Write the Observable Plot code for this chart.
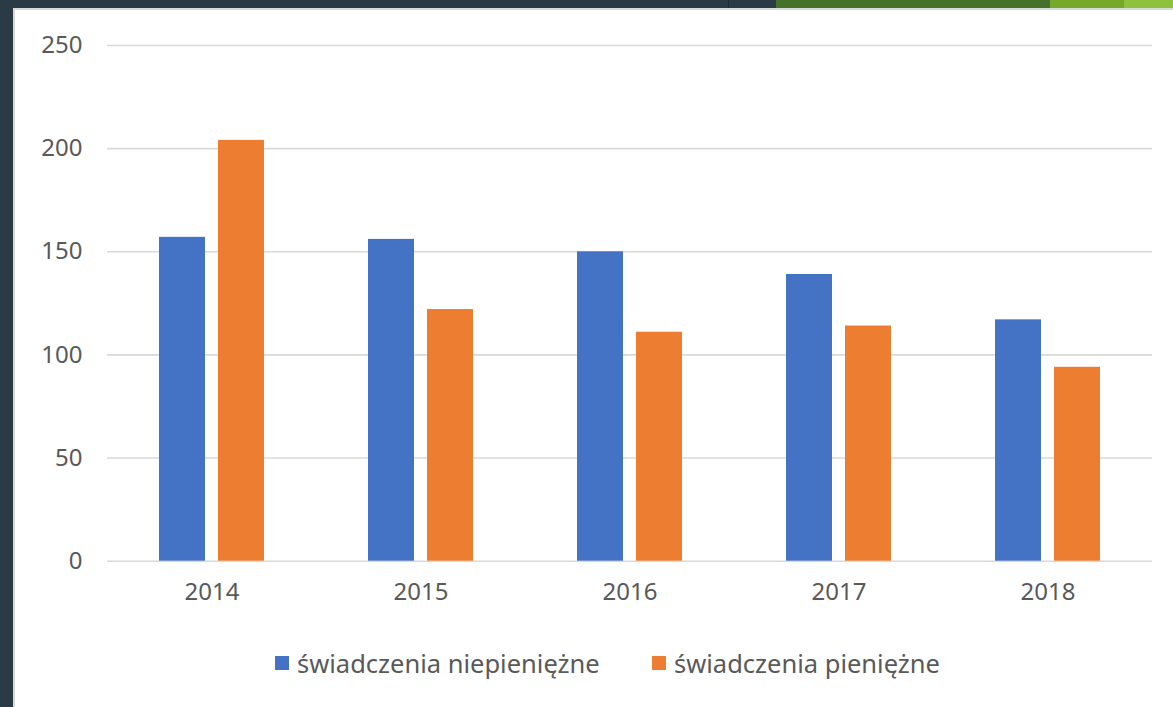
<!DOCTYPE html>
<html>
<head>
<meta charset="utf-8">
<script src="https://cdn.jsdelivr.net/npm/d3@7"></script>
<script src="https://cdn.jsdelivr.net/npm/@observablehq/plot@0.6"></script>
<style>
  html, body { margin: 0; padding: 0; }
  body { width: 1173px; height: 707px; background: #2a3b45; position: relative; overflow: hidden; font-family: "Noto Sans", sans-serif; }
  #deco1 { position: absolute; left: 776px; top: 0; width: 274px; height: 8px; background: #44722a; }
  #deco0 { position: absolute; left: 776px; top: 0; width: 22px; height: 8px; background: #4d5e44; }
  #deco2 { position: absolute; left: 1050px; top: 0; width: 74px; height: 8px; background: #76a82a; }
  #deco3 { position: absolute; left: 1124px; top: 0; width: 49px; height: 8px; background: #8fc23c; }
  #decoLine { position: absolute; left: 728px; top: 0; width: 1px; height: 8px; background: #1c2a31; }
  #panel { position: absolute; left: 13px; top: 8px; width: 1160px; height: 699px; background: #fff; border-left: 2px solid #d9d9d9; border-top: 2px solid #d9d9d9; box-sizing: border-box; }
  #chart { position: absolute; left: 0; top: 0; }
  #legend { position: absolute; left: 0; top: 647px; width: 1173px; height: 32px; }
  .item { position: absolute; top: 0; display: flex; align-items: center; height: 32px; font-size: 25.5px; color: #595959; white-space: nowrap; }
  .sw { width: 14px; height: 14px; margin-right: 8px; }
</style>
</head>
<body>
<div id="decoLine"></div><div id="deco0"></div><div id="deco1"></div><div id="deco2"></div><div id="deco3"></div>
<div id="panel"></div>
<div id="chart"></div>
<div id="legend"></div>
<script>
const years = ["2014", "2015", "2016", "2017", "2018"];
const seriesNames = ["świadczenia niepieniężne", "świadczenia pieniężne"];
const nonCash = [157, 156, 150, 139, 117];
const cash = [204, 122, 111, 114, 94];
const colors = ["#4472C4", "#ED7D31"];
const yTicks = [0, 50, 100, 150, 200, 250];

const rows = [];
years.forEach((yr, i) => {
  rows.push({year: yr, series: seriesNames[0], value: nonCash[i]});
  rows.push({year: yr, series: seriesNames[1], value: cash[i]});
});

const W = 1173, H = 620;
const chart = Plot.plot({
  width: W,
  height: H,
  marginLeft: 106,
  marginRight: 20,
  marginTop: 45,
  marginBottom: H - 560.7,
  style: {background: "transparent", fontFamily: "Noto Sans, sans-serif", fontSize: "24px", color: "#595959", overflow: "visible"},
  fx: {domain: years, padding: 0, label: null, tickSize: 0, tickPadding: 22},
  x: {domain: seriesNames, paddingInner: 0.218, paddingOuter: 0.864, axis: null},
  y: {domain: [0, 250], ticks: yTicks, label: null, tickSize: 0, tickPadding: 25},
  color: {domain: seriesNames, range: colors},
  marks: [
    Plot.ruleY(yTicks, {stroke: "#d9d9d9", strokeWidth: 1.6}),
    Plot.barY(rows, {fx: "year", x: "series", y: "value", fill: "series"})
  ]
});
chart.style.display = "block";
document.getElementById("chart").appendChild(chart);

const legend = document.getElementById("legend");
const legendX = [275, 652];
seriesNames.forEach((name, i) => {
  const item = document.createElement("div");
  item.className = "item";
  item.style.left = legendX[i] + "px";
  const sw = document.createElement("div");
  sw.className = "sw";
  sw.style.background = colors[i];
  const t = document.createElement("span");
  t.textContent = name;
  item.appendChild(sw);
  item.appendChild(t);
  legend.appendChild(item);
});
</script>
</body>
</html>
